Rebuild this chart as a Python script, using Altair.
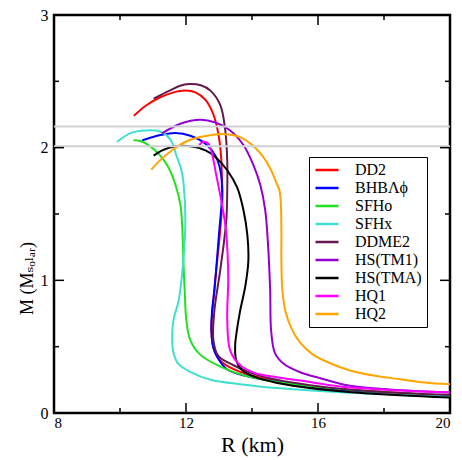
import altair as alt
import pandas as pd

names = ["DD2", "BHBΛϕ", "SFHo", "SFHx", "DDME2", "HS(TM1)", "HS(TMA)", "HQ1", "HQ2"]
colors = ["#ff0000", "#0000ff", "#22e022", "#40e0d0", "#641a4e", "#9400d3", "#000000", "#ff00ff", "#ffa500"]

dd2_R = [10.42, 10.8, 11.22, 11.6, 11.98, 12.3, 12.59, 12.83, 12.99, 13.07, 13.09, 13.1, 13.05, 12.98, 12.9, 12.83, 12.77, 12.86, 13.1, 13.64, 14.55, 16.06, 17.88, 20.0]
dd2_M = [2.24, 2.32, 2.38, 2.415, 2.43, 2.415, 2.36, 2.25, 2.09, 1.91, 1.72, 1.60, 1.42, 1.23, 1.04, 0.85, 0.62, 0.47, 0.38, 0.31, 0.25, 0.19, 0.16, 0.13]

bhb_R = [10.67, 11.0, 11.23, 11.68, 12.13, 12.59, 12.89, 13.04, 13.1, 13.07, 13.0, 12.92, 12.86, 12.79, 12.77, 12.82, 12.95, 13.24, 13.8, 14.8, 16.06, 17.88, 20.0]
bhb_M = [2.055, 2.08, 2.095, 2.11, 2.09, 2.03, 1.94, 1.83, 1.68, 1.55, 1.35, 1.10, 0.92, 0.77, 0.62, 0.50, 0.42, 0.33, 0.28, 0.235, 0.19, 0.155, 0.13]

sfho_R = [10.41, 10.62, 10.92, 11.22, 11.47, 11.68, 11.83, 11.89, 11.92, 11.96, 12.01, 12.13, 12.43, 13.04, 13.8, 14.86, 16.67, 18.49, 20.0]
sfho_M = [2.055, 2.05, 2.01, 1.94, 1.85, 1.72, 1.57, 1.38, 1.15, 0.93, 0.70, 0.55, 0.44, 0.35, 0.28, 0.23, 0.18, 0.15, 0.13]

sfhx_R = [9.91, 10.32, 10.77, 11.22, 11.53, 11.71, 11.86, 11.93, 11.98, 11.92, 11.78, 11.62, 11.58, 11.62, 11.77, 12.13, 12.74, 13.64, 14.86, 16.67, 18.49, 20.0]
sfhx_M = [2.045, 2.11, 2.13, 2.12, 2.06, 1.94, 1.83, 1.72, 1.45, 1.15, 0.85, 0.70, 0.56, 0.455, 0.37, 0.31, 0.25, 0.217, 0.186, 0.156, 0.137, 0.126]

ddme2_R = [11.02, 11.5, 11.8, 12.1, 12.45, 12.74, 13.04, 13.19, 13.25, 13.25, 13.22, 13.04, 12.86, 12.83, 12.98, 13.44, 14.25, 16.06, 17.88, 20.0]
ddme2_M = [2.37, 2.43, 2.465, 2.48, 2.47, 2.43, 2.32, 2.13, 1.90, 1.68, 1.45, 1.08, 0.77, 0.55, 0.43, 0.36, 0.28, 0.20, 0.16, 0.135]

tm1_R = [11.27, 11.83, 12.43, 12.89, 13.34, 13.74, 14.04, 14.25, 14.40, 14.49, 14.55, 14.58, 14.70, 14.98, 15.46, 16.07, 16.88, 17.88, 19.09, 20.0]
tm1_M = [2.107, 2.18, 2.21, 2.19, 2.13, 2.02, 1.87, 1.72, 1.53, 1.25, 0.925, 0.62, 0.45, 0.367, 0.307, 0.262, 0.209, 0.183, 0.164, 0.154]

tma_R = [11.02, 11.28, 11.68, 12.13, 12.59, 12.89, 13.25, 13.55, 13.74, 13.86, 13.89, 13.80, 13.64, 13.54, 13.49, 13.52, 13.71, 14.1, 14.70, 15.46, 16.67, 18.49, 20.0]
tma_M = [1.94, 1.98, 2.01, 2.01, 1.98, 1.93, 1.83, 1.70, 1.53, 1.34, 1.15, 0.96, 0.77, 0.62, 0.51, 0.40, 0.32, 0.27, 0.23, 0.198, 0.164, 0.133, 0.116]

hq1_R = [12.40, 12.53, 12.68, 12.80, 12.92, 13.07, 13.20, 13.26, 13.28, 13.25, 13.34, 13.64, 14.10, 14.76, 15.46, 16.67, 18.49, 20.0]
hq1_M = [2.02, 2.045, 2.03, 1.94, 1.79, 1.60, 1.40, 1.20, 1.0, 0.70, 0.47, 0.36, 0.30, 0.27, 0.245, 0.20, 0.17, 0.156]

hq2_R = [10.95, 11.22, 11.63, 12.04, 12.43, 12.89, 13.28, 13.64, 14.01, 14.34, 14.58, 14.73, 14.83, 14.87, 14.89, 14.89, 14.92, 15.01, 15.19, 15.46, 15.85, 16.37, 16.97, 17.73, 18.49, 19.24, 20.0]
hq2_M = [1.835, 1.906, 1.99, 2.05, 2.08, 2.10, 2.10, 2.08, 2.02, 1.93, 1.83, 1.74, 1.68, 1.60, 1.38, 1.15, 0.925, 0.77, 0.64, 0.53, 0.44, 0.375, 0.32, 0.28, 0.254, 0.23, 0.216]

series_R = [dd2_R, bhb_R, sfho_R, sfhx_R, ddme2_R, tm1_R, tma_R, hq1_R, hq2_R]
series_M = [dd2_M, bhb_M, sfho_M, sfhx_M, ddme2_M, tm1_M, tma_M, hq1_M, hq2_M]

obs_limits = [2.01, 2.16]
x_major = [8, 12, 16, 20]
x_minor = [10, 14, 18]
y_major = [0, 1, 2, 3]
y_minor = [0.5, 1.5, 2.5]

rows = []
for n, rs, ms in zip(names, series_R, series_M):
    for i, (r, m) in enumerate(zip(rs, ms)):
        rows.append({"name": n, "R": r, "M": m, "i": i})
df = pd.DataFrame(rows)

W, H = 396, 398
FONT = "Liberation Serif, Times New Roman, DejaVu Serif, serif"
xs = alt.Scale(domain=[8, 20], nice=False, zero=False)
ys = alt.Scale(domain=[0, 3], nice=False, zero=False)

x_axis = alt.Axis(
    values=x_major, title="R (km)", domain=False, ticks=False, grid=False,
    labelFont=FONT, labelFontSize=15, labelColor="black", labelPadding=2,
    titleFont=FONT, titleFontSize=22, titleFontWeight="normal", titleColor="black",
    titleY=38, titleBaseline="alphabetic")
y_axis = alt.Axis(
    values=y_major, title="M (Mₛₒₗₐᵣ)", domain=False, ticks=False, grid=False,
    labelFont=FONT, labelFontSize=16, labelColor="black", labelPadding=6,
    titleFont=FONT, titleFontSize=18, titleFontWeight="normal", titleColor="black",
    titleX=-27, titleY=263, titleBaseline="middle")

lines = alt.Chart(df).mark_line(strokeWidth=2, interpolate="catmull-rom", clip=True).encode(
    x=alt.X("R:Q", scale=xs, axis=x_axis),
    y=alt.Y("M:Q", scale=ys, axis=y_axis),
    color=alt.Color("name:N", sort=names, scale=alt.Scale(domain=names, range=colors),
                    legend=alt.Legend(title=None, orient="none", legendX=255, legendY=142,
                                      symbolType="stroke", symbolSize=529, symbolStrokeWidth=2.5,
                                      labelFont=FONT, labelFontSize=16, labelColor="black",
                                      labelOffset=15, padding=5, rowPadding=2, clipHeight=16,
                                      strokeColor="black", fillColor="white", labelLimit=200)),
    order=alt.Order("i:Q"),
)

limits = alt.Chart(pd.DataFrame({"v": obs_limits})).mark_rule(color="#d0d0d0", strokeWidth=2).encode(
    y=alt.Y("v:Q", scale=ys, axis=y_axis))

layers = [lines, limits]

def xticks(vals, length):
    d = pd.DataFrame({"v": vals})
    b = alt.Chart(d).mark_rule(color="black", strokeWidth=1.5).encode(
        x=alt.X("v:Q", scale=xs, axis=x_axis), y=alt.value(H), y2=alt.value(H - length))
    t = alt.Chart(d).mark_rule(color="black", strokeWidth=1.5).encode(
        x=alt.X("v:Q", scale=xs, axis=x_axis), y=alt.value(0), y2=alt.value(length))
    return [b, t]

def yticks(vals, length):
    d = pd.DataFrame({"v": vals})
    l = alt.Chart(d).mark_rule(color="black", strokeWidth=1.5).encode(
        y=alt.Y("v:Q", scale=ys, axis=y_axis), x=alt.value(0), x2=alt.value(length))
    r = alt.Chart(d).mark_rule(color="black", strokeWidth=1.5).encode(
        y=alt.Y("v:Q", scale=ys, axis=y_axis), x=alt.value(W), x2=alt.value(W - length))
    return [l, r]

layers += xticks(x_major, 10) + xticks(x_minor, 5) + yticks(y_major, 10) + yticks(y_minor, 5)

chart = alt.layer(*layers).properties(
    width=W, height=H,
    padding={"left": 54, "top": 15, "right": 12, "bottom": 47},
    autosize=alt.AutoSizeParams(type="none"),
    background="white",
).configure_view(stroke="black", strokeWidth=2.5)

chart.save("out.html", embed_options={"renderer": "svg", "actions": False})
